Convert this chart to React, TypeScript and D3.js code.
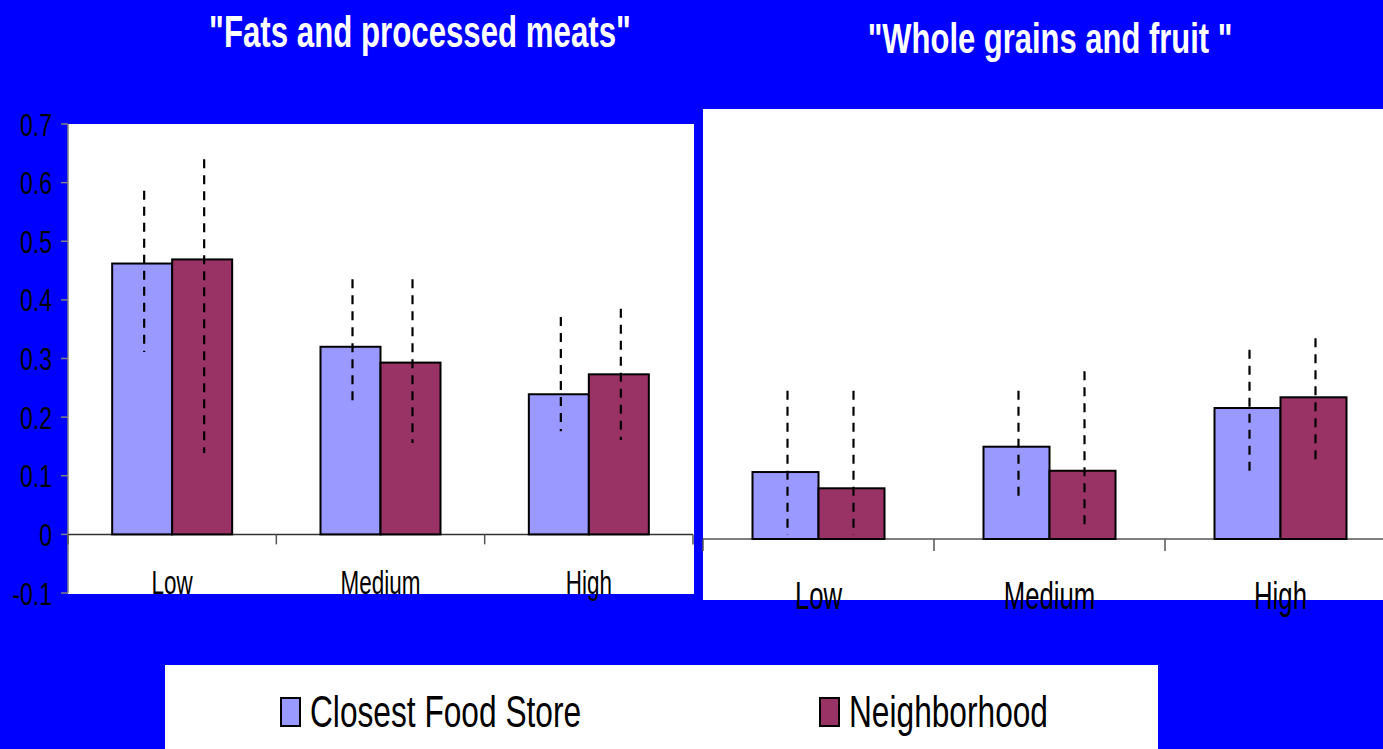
import React from "react";
import * as d3 from "d3";

const categories = ["Low", "Medium", "High"];
const seriesNames = ["Closest Food Store", "Neighborhood"];
const seriesColors = ["#9999FF", "#993366"];

// "Fats and processed meats"
const fatsStore = [0.462, 0.32, 0.239];
const fatsNeigh = [0.469, 0.293, 0.273];
const fatsStoreLo = [0.311, 0.22, 0.176];
const fatsStoreHi = [0.586, 0.435, 0.371];
const fatsNeighLo = [0.139, 0.156, 0.161];
const fatsNeighHi = [0.64, 0.435, 0.385];

// "Whole grains and fruit"
const grainsStore = [0.103, 0.142, 0.2015];
const grainsNeigh = [0.078, 0.105, 0.218];
const grainsStoreLo = [0.006, 0.065, 0.1];
const grainsStoreHi = [0.228, 0.228, 0.291];
const grainsNeighLo = [0.006, 0.014, 0.117];
const grainsNeighHi = [0.228, 0.258, 0.309];

const yTicks = [-0.1, 0, 0.1, 0.2, 0.3, 0.4, 0.5, 0.6, 0.7];

const FONT = "'Liberation Sans', Arial, sans-serif";

type Panel = {
  vals: number[][];
  lo: number[][];
  hi: number[][];
  x: d3.ScaleBand<string>;
  y: d3.ScaleLinear<number, number>;
  barW: number;
};

function Bars({ p }: { p: Panel }) {
  const els: React.ReactNode[] = [];
  categories.forEach((c, ci) => {
    const center = (p.x(c) as number) + p.x.bandwidth() / 2;
    const inner = d3
      .scaleBand<string>()
      .domain(seriesNames)
      .range([center - p.barW, center + p.barW]);
    seriesNames.forEach((s, si) => {
      const v = p.vals[si][ci];
      const x0 = inner(s) as number;
      els.push(
        <rect
          key={`b-${c}-${s}`}
          x={x0}
          y={p.y(v)}
          width={inner.bandwidth()}
          height={p.y(0) - p.y(v)}
          fill={seriesColors[si]}
          stroke="#000"
          strokeWidth={2}
        />
      );
    });
    seriesNames.forEach((s, si) => {
      const x0 = (inner(s) as number) + inner.bandwidth() / 2 + 2;
      els.push(
        <line
          key={`e-${c}-${s}`}
          x1={x0}
          x2={x0}
          y1={p.y(p.hi[si][ci])}
          y2={p.y(p.lo[si][ci])}
          stroke="#000"
          strokeWidth={2.2}
          strokeDasharray="9,7"
        />
      );
    });
  });
  return <g>{els}</g>;
}

export default function App() {
  const W = 1383;
  const H = 749;

  const xL = d3.scaleBand<string>().domain(categories).range([68, 693]);
  const yL = d3.scaleLinear().domain([-0.1, 0.7]).range([593, 124]);
  const xR = d3.scaleBand<string>().domain(categories).range([703, 1396]);
  const yR = d3.scaleLinear().domain([0, 0.7]).range([539, 84]);

  const left: Panel = {
    vals: [fatsStore, fatsNeigh],
    lo: [fatsStoreLo, fatsNeighLo],
    hi: [fatsStoreHi, fatsNeighHi],
    x: xL,
    y: yL,
    barW: 60,
  };
  const right: Panel = {
    vals: [grainsStore, grainsNeigh],
    lo: [grainsStoreLo, grainsNeighLo],
    hi: [grainsStoreHi, grainsNeighHi],
    x: xR,
    y: yR,
    barW: 66,
  };

  const fmt = (v: number) => (v === 0 ? "0" : d3.format(".1f")(v).replace("\u2212", "-"));

  const boundsL = [...categories.map((c) => xL(c) as number), 693];
  const boundsR = categories.map((c) => xR(c) as number);

  return (
    <svg
      width={W}
      height={H}
      style={{ position: "absolute", left: 0, top: 0, display: "block" }}
      fontFamily={FONT}
    >
      <rect x={0} y={0} width={W} height={H} fill="#0000FF" />

      {/* Titles */}
      <text
        transform="translate(420,47) scale(0.71,1)"
        textAnchor="middle"
        fontSize={44}
        fontWeight="bold"
        fill="#fff"
      >
        "Fats and processed meats"
      </text>
      <text
        transform="translate(1050,53) scale(0.72,1)"
        textAnchor="middle"
        fontSize={43}
        fontWeight="bold"
        fill="#fff"
      >
        "Whole grains and fruit "
      </text>

      {/* Left panel */}
      <rect x={68} y={124} width={626} height={470} fill="#fff" />
      <line x1={68} x2={68} y1={yL(0.7)} y2={yL(-0.1)} stroke="#808080" strokeWidth={1.5} />
      {yTicks.map((t) => (
        <g key={`yt-${t}`}>
          <line x1={61} x2={68} y1={yL(t)} y2={yL(t)} stroke="#808080" strokeWidth={1.5} />
          <text
            transform={`translate(52,${yL(t) + 11.5}) scale(0.72,1)`}
            textAnchor="end"
            fontSize={32}
            fill="#000"
          >
            {fmt(t)}
          </text>
        </g>
      ))}
      <line x1={68} x2={693} y1={yL(0)} y2={yL(0)} stroke="#333" strokeWidth={1.5} />
      {boundsL.map((b, i) => (
        <line key={`xtL-${i}`} x1={b} x2={b} y1={yL(0)} y2={yL(0) + 10} stroke="#555" strokeWidth={1.5} />
      ))}
      <Bars p={left} />
      {categories.map((c) => (
        <text
          key={`cl-${c}`}
          transform={`translate(${(xL(c) as number) + xL.bandwidth() / 2},594) scale(0.68,1)`}
          textAnchor="middle"
          fontSize={33}
          fill="#000"
        >
          {c}
        </text>
      ))}

      {/* Right panel */}
      <rect x={703} y={109} width={680} height={491} fill="#fff" />
      <line x1={703} x2={1383} y1={yR(0)} y2={yR(0)} stroke="#555" strokeWidth={1.5} />
      {boundsR.map((b, i) => (
        <line key={`xtR-${i}`} x1={b} x2={b} y1={yR(0)} y2={yR(0) + 12} stroke="#555" strokeWidth={1.5} />
      ))}
      <Bars p={right} />
      {categories.map((c) => (
        <text
          key={`cr-${c}`}
          transform={`translate(${(xR(c) as number) + xR.bandwidth() / 2},609) scale(0.66,1)`}
          textAnchor="middle"
          fontSize={39}
          fill="#000"
        >
          {c}
        </text>
      ))}

      {/* Legend */}
      <rect x={165} y={665} width={993} height={90} fill="#fff" />
      {seriesNames.map((s, i) => {
        const lx = [281, 820][i];
        return (
          <g key={`lg-${s}`}>
            <rect x={lx} y={698} width={19} height={28} fill={seriesColors[i]} stroke="#000" strokeWidth={2} />
            <text
              transform={`translate(${lx + 29},727) scale(0.72,1)`}
              fontSize={44}
              fill="#000"
            >
              {s}
            </text>
          </g>
        );
      })}
    </svg>
  );
}
